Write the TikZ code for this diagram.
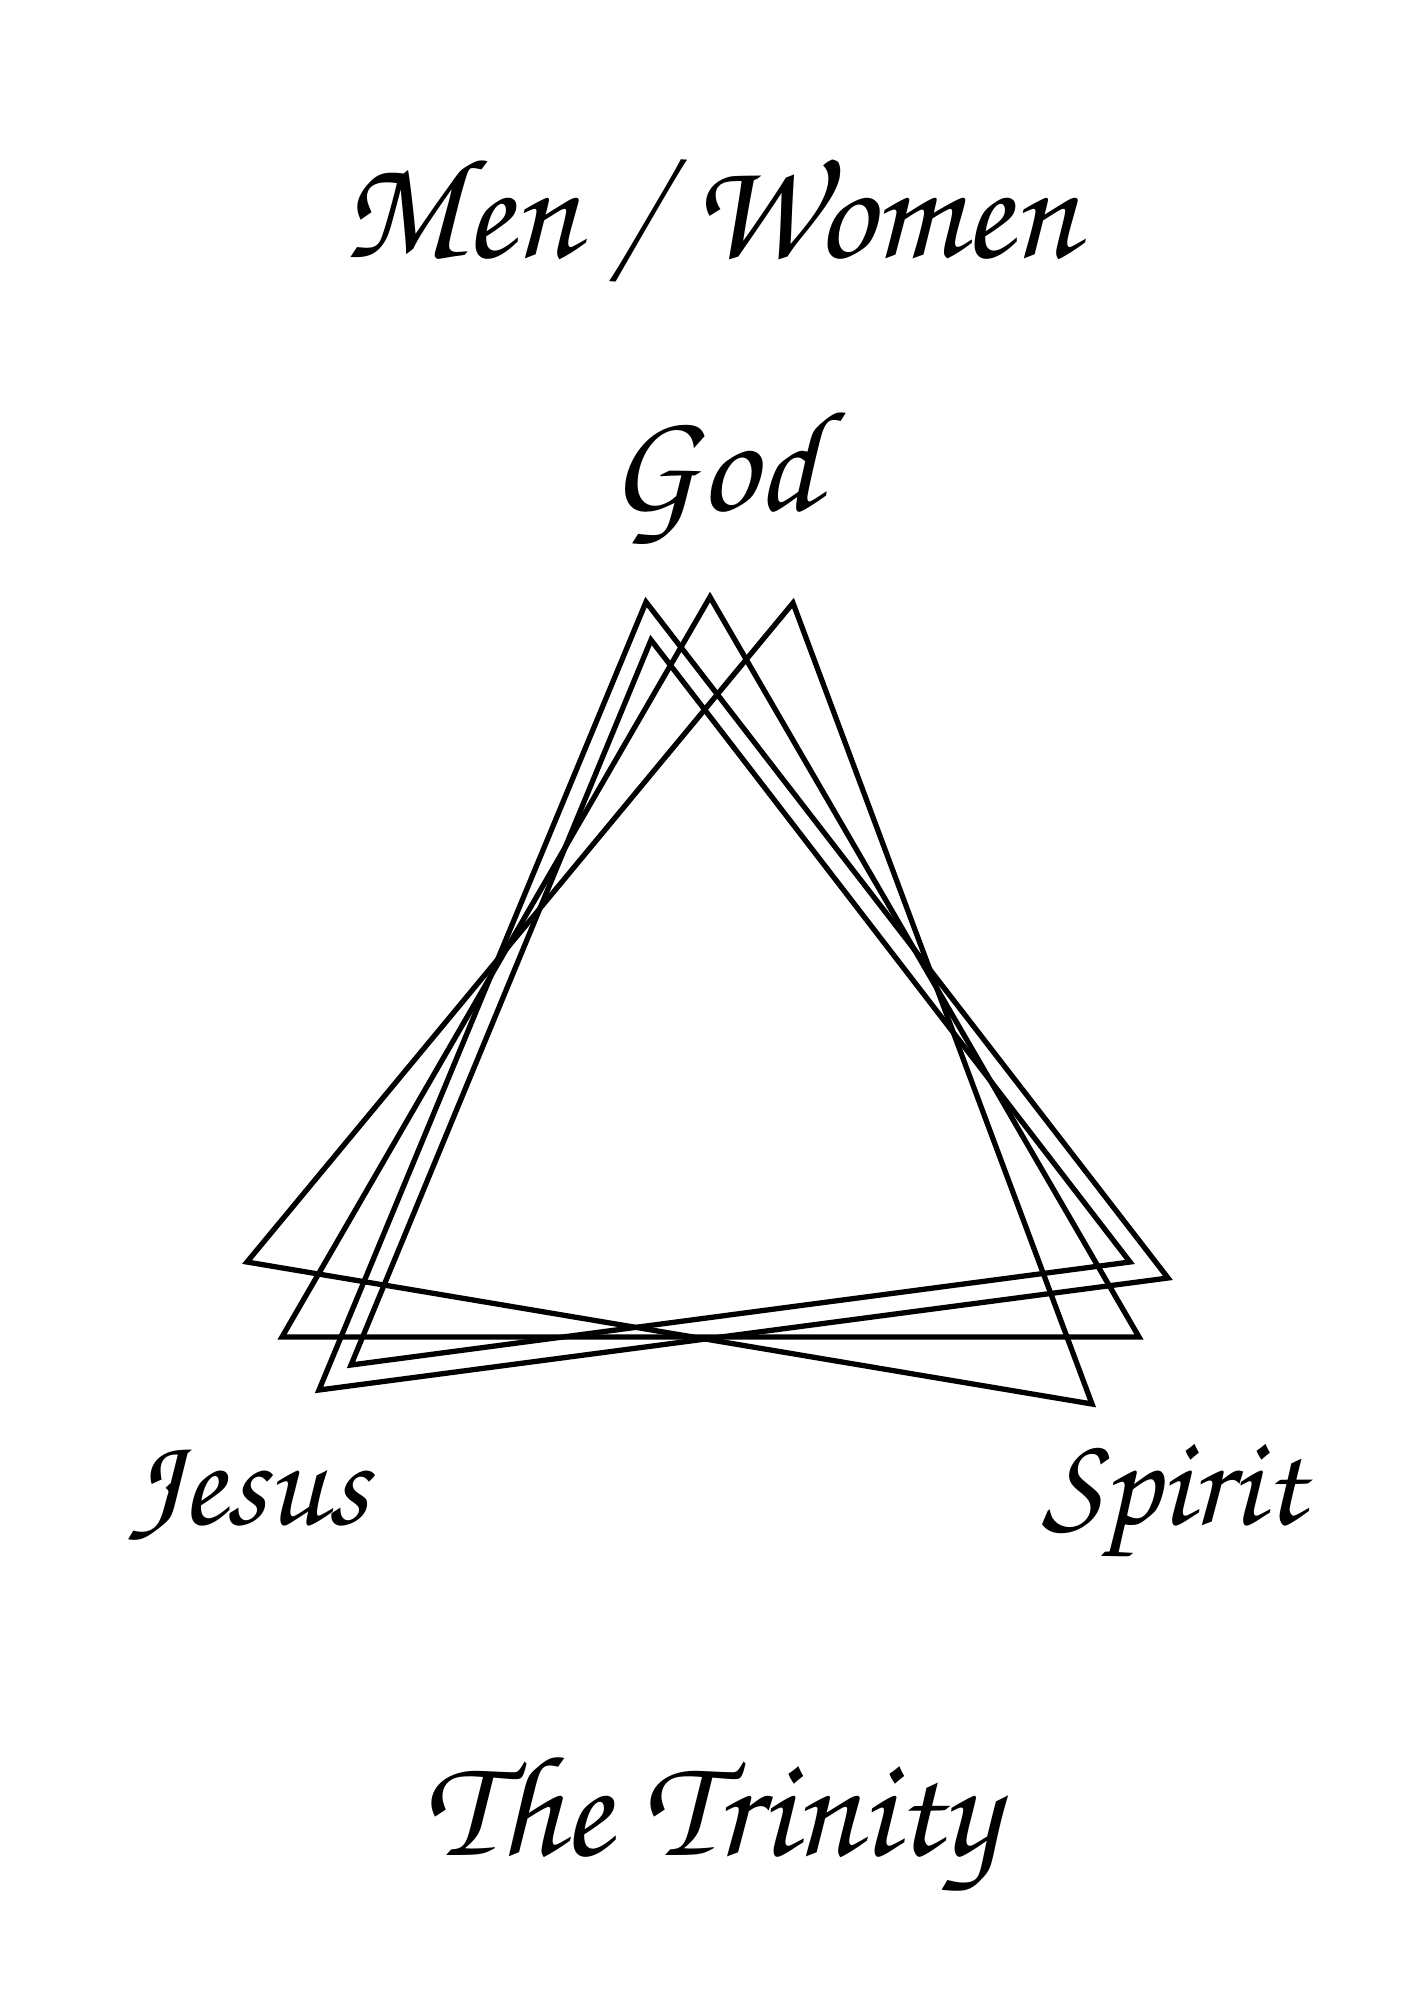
\documentclass[tikz,border=0pt]{standalone}
\usepackage[T1]{fontenc}
\newcommand\handfont{\fontencoding{T1}\fontfamily{pzc}\fontseries{mb}\fontshape{it}\selectfont}
\tikzset{
  tri/.style={line width=1.5pt,line join=miter},
  word/.style={anchor=base,inner sep=0pt,font=\handfont\fontsize{41}{45}\selectfont}
}

\begin{document}
\begin{tikzpicture}[x=0.01cm,y=-0.01cm]
  \useasboundingbox (0,0) rectangle (1414,2000);
  % corners of the four triangles
  \coordinate (aT) at (646,602);  \coordinate (aL) at (319,1390); \coordinate (aR) at (1168,1278);
  \coordinate (bT) at (710,597);  \coordinate (bL) at (282,1337); \coordinate (bR) at (1139,1337);
  \coordinate (cT) at (793,603);  \coordinate (cL) at (247,1262); \coordinate (cR) at (1092,1404);
  \coordinate (dT) at (651,640);  \coordinate (dL) at (351,1365); \coordinate (dR) at (1130,1262);
  \draw[tri] (aT) -- (aL) -- (aR) -- cycle;
  \draw[tri] (bT) -- (bL) -- (bR) -- cycle;
  \draw[tri] (cT) -- (cL) -- (cR) -- cycle;
  \draw[tri] (dT) -- (dL) -- (dR) -- cycle;
  \node[word] (title) at (710,258) {Men / Women};
  \node[word] (god) at (714,510) {God};
  \node[word,font=\handfont\fontsize{37}{40}\selectfont] (jesus) at (248,1524) {Jesus};
  \node[word,font=\handfont\fontsize{37}{40}\selectfont] (spirit) at (1173,1524) {Spirit};
  \node[word] (trinity) at (711,1855) {The Trinity};
\end{tikzpicture}
\end{document}
